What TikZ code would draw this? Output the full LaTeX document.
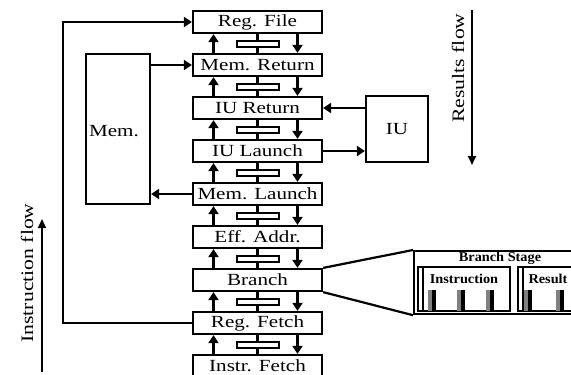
\documentclass[tikz,border=0pt]{standalone}
\usepackage{fontspec}
\setmainfont{Liberation Serif}[FakeStretch=1.24]
\newfontfamily\detfont{Liberation Serif}[FakeStretch=1.06]
\usetikzlibrary{arrows.meta,calc}
\tikzset{
  stage/.style={draw, line width=2.2pt, minimum width=129pt, minimum height=22pt,
    inner sep=0pt, font=\fontsize{17}{18}\selectfont},
  unitbox/.style={draw, line width=2.2pt, inner sep=0pt, font=\fontsize{17}{18}\selectfont},
  unitlabel/.style={inner sep=0pt, font=\fontsize{17}{18}\selectfont},
  latch/.style={draw, line width=2pt, minimum width=42pt, minimum height=6pt, inner sep=0pt},
  wire/.style={line width=2.2pt},
  arr/.style={line width=2.2pt, -{Triangle[length=8pt,width=10pt]}},
  flowarr/.style={line width=1.8pt, -{Triangle[length=9pt,width=8pt]}},
  flowtext/.style={rotate=90, font=\fontsize{17.5}{19}\selectfont, inner sep=0pt},
  dettext/.style={font=\detfont\bfseries\fontsize{13.5}{15}\selectfont, inner sep=0pt},
  grp/.style={line width=1.5pt},
}
\begin{document}
\begin{tikzpicture}[x=1pt, y=-1pt]
\useasboundingbox (0,0) rectangle (571,375);
\clip (0,0) rectangle (571,375);

% pipeline stages, top to bottom
\foreach \name/\txt [count=\i from 0] in {s0/Reg. File, s1/Mem. Return, s2/IU Return,
    s3/IU Launch, s4/Mem. Launch, s5/Eff. Addr., s6/Branch, s7/Reg. Fetch, s8/Instr. Fetch}
  \node[stage] (\name) at (257.5, 22+43*\i) {\txt};

% latches and forward/backward paths between neighbouring stages
\foreach \a/\b [count=\k] in {s0/s1, s1/s2, s2/s3, s3/s4, s4/s5, s5/s6, s6/s7, s7/s8} {
  \node[latch] (l\k) at ($(\a.south)!0.5!(\b.north)$) {};
  \draw[wire] (\a.south) -- (l\k.north) (l\k.south) -- (\b.north);
  \draw[arr] ([xshift=-44pt]\b.north) -- ([xshift=-44pt]\a.south);
  \draw[arr] ([xshift=40pt]\a.south) -- ([xshift=40pt]\b.north);
}

% memory and integer unit
\node[unitbox, minimum width=64pt, minimum height=150pt] (mem) at (118,129) {};
\node[unitlabel] (memlbl) at (114,131) {Mem.};
\node[unitbox, minimum width=62pt, minimum height=66pt] (iu) at (397,129) {IU};

\draw[arr] (s1.west -| mem.east) -- (s1.west);
\draw[arr] (s4.west) -- (s4.west -| mem.east);
\draw[arr] (s3.east) -- (s3.east -| iu.west);
\draw[arr] (s2.east -| iu.west) -- (s2.east);

% register write-back loop
\coordinate (loopx) at (63,0);
\draw[arr] (s7.west) -- (s7.west -| loopx) |- (s0.west);

% flow directions
\node[flowtext] (rf) at (458,68) {Results flow};
\coordinate (rftop) at (472,10);
\coordinate (rfbot) at (472,165);
\draw[flowarr] (rftop) -- (rfbot);

\node[flowtext] (if) at (27,273) {Instruction flow};
\coordinate (ifbot) at (42,372);
\coordinate (iftop) at (42,219);
\draw[flowarr] (ifbot) -- (iftop);

% branch stage detail
\node[draw, line width=2.2pt, anchor=north west, minimum width=180pt, minimum height=63pt,
  inner sep=0pt] (det) at (413,250) {};
\draw[wire] (s6.north east) -- (det.north west);
\draw[wire] (s6.south east) -- (det.south west);
\node[dettext] (dtitle) at (500,258) {Branch Stage};

% instruction queue
\draw[grp] (418,267) rectangle (510,311);
\draw[grp] (423,267) -- (423,311);
\node[dettext] (instr) at (464,279) {Instruction};
\foreach \cx in {428,457,486} {
  \fill[gray] (\cx,290) rectangle (\cx+3.5,311);
  \fill[black] (\cx+3.5,290) rectangle (\cx+7.5,311);
}

% result queue
\draw[grp] (518,267) rectangle (620,311);
\draw[grp] (523,267) -- (523,311);
\node[dettext] (res) at (548,279) {Result};
\foreach \cx in {524,556,588} {
  \fill[gray] (\cx,290) rectangle (\cx+3.5,311);
  \fill[black] (\cx+3.5,290) rectangle (\cx+7.5,311);
}
\end{tikzpicture}
\end{document}
